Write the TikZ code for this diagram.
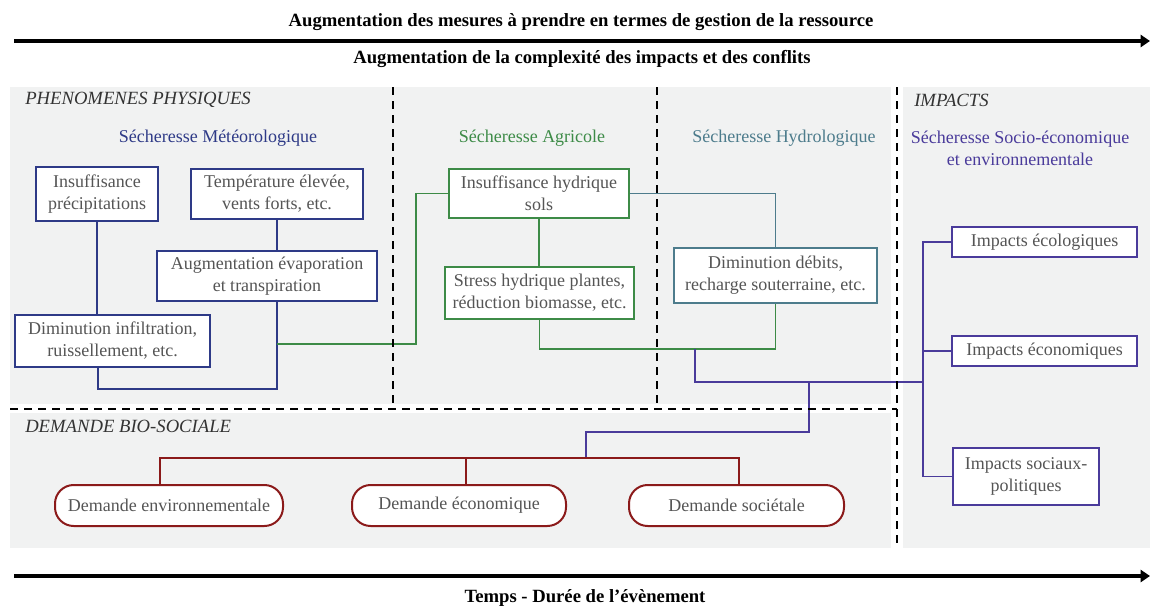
\documentclass[tikz,border=0pt]{standalone}
\usepackage{fontspec}
\setmainfont{Liberation Serif}
\usetikzlibrary{arrows.meta}
\definecolor{navy}{RGB}{46,58,135}
\definecolor{agri}{RGB}{61,139,71}
\definecolor{hydro}{RGB}{77,124,140}
\definecolor{purp}{RGB}{74,59,155}
\definecolor{dred}{RGB}{139,26,26}
\definecolor{panel}{RGB}{241,242,242}
\definecolor{txtgray}{RGB}{85,85,85}
\definecolor{ttlgray}{RGB}{51,51,51}
\newcommand{\bxfont}{\fontsize{13.5}{16.5}\selectfont}
\newcommand{\ttlfont}{\fontsize{14}{17}\selectfont\bfseries}
\newcommand{\secfont}{\fontsize{14}{17}\selectfont\itshape}
\begin{document}
\begin{tikzpicture}[x=0.75pt,y=-0.75pt,
  box/.style={draw, line width=1.5pt, fill=white, text=txtgray, font=\bxfont, align=center, inner sep=1pt},
  pill/.style={box, draw=dred, rounded corners=14pt},
  conn/.style={line width=1.4pt},
  divider/.style={line width=1.8pt, dash pattern=on 6pt off 4.5pt},
  timearrow/.style={line width=3pt, -{Triangle[length=7pt,width=9pt]}},
  section/.style={font=\secfont, text=ttlgray, anchor=west, inner sep=0pt},
  subttl/.style={font=\bxfont, align=center, inner sep=0pt},
  ttl/.style={font=\ttlfont, inner sep=0pt}]
\useasboundingbox (0,0) rectangle (1150,608);
% panels
\fill[panel] (10,87) rectangle (891,404);
\fill[panel] (10,413) rectangle (891,548);
\fill[panel] (903,87) rectangle (1150,548);
% arrows and titles
\coordinate (a1) at (14,41);
\coordinate (a2) at (1150,41);
\coordinate (b1) at (14,576);
\coordinate (b2) at (1150,576);
\draw[timearrow] (a1) -- (a2);
\draw[timearrow] (b1) -- (b2);
\node[ttl] (t1) at (581,22) {Augmentation des mesures à prendre en termes de gestion de la ressource};
\node[ttl] (t2) at (582,59) {Augmentation de la complexité des impacts et des conflits};
\node[ttl] (t3) at (585,598) {Temps - Durée de l’évènement};
% section titles
\node[section] (s1) at (25,100) {PHENOMENES PHYSIQUES};
\node[section] (s2) at (914,100) {IMPACTS};
\node[section] (s3) at (25,426) {DEMANDE BIO-SOCIALE};
\node[subttl, text=navy] (st1) at (218,138) {Sécheresse Météorologique};
\node[subttl, text=agri] (st2) at (532,138) {Sécheresse Agricole};
\node[subttl, text=hydro] (st3) at (784,138) {Sécheresse Hydrologique};
\node[subttl, text=purp] (st4) at (1020,148) {Sécheresse Socio-économique\\et environnementale};
% boxes
\node[box, draw=navy, minimum width=91.5pt, minimum height=40.5pt] (insuf) at (97,194) {Insuffisance\\précipitations};
\node[box, draw=navy, minimum width=129pt, minimum height=37.5pt] (temp) at (277,194) {Température élevée,\\vents forts, etc.};
\node[box, draw=navy, minimum width=165pt, minimum height=37.5pt] (augm) at (267,276) {Augmentation évaporation\\et transpiration};
\node[box, draw=navy, minimum width=146.25pt, minimum height=39pt] (dimi) at (112.5,341) {Diminution infiltration,\\ruissellement, etc.};
\node[box, draw=agri, minimum width=135pt, minimum height=36.75pt] (hyd) at (539,193.5) {Insuffisance hydrique\\sols};
\node[box, draw=agri, minimum width=141.75pt, minimum height=39pt] (stress) at (539.5,293) {Stress hydrique plantes,\\réduction biomasse, etc.};
\node[box, draw=hydro, minimum width=152.25pt, minimum height=41.25pt] (debits) at (775.5,275.5) {Diminution débits,\\recharge souterraine, etc.};
\node[box, draw=purp, minimum width=138.75pt, minimum height=22.5pt] (eco) at (1044.5,242) {Impacts écologiques};
\node[box, draw=purp, minimum width=138.75pt, minimum height=22.5pt] (econ) at (1044.5,351) {Impacts économiques};
\node[box, draw=purp, minimum width=109.5pt, minimum height=42.75pt] (soc) at (1026,476.5) {Impacts sociaux-\\politiques};
\node[pill, minimum width=171pt, minimum height=30.75pt] (p1) at (169,505.5) {Demande environnementale};
\node[pill, minimum width=160.5pt, minimum height=30.75pt] (p2) at (459,505.5) {Demande économique};
\node[pill, minimum width=161.25pt, minimum height=30.75pt] (p3) at (736.5,505.5) {Demande sociétale};
% coordinates
\coordinate (c1) at (98,389);
\coordinate (c2) at (277,389);
\coordinate (g1) at (277,344);
\coordinate (g2) at (416,193.5);
\coordinate (j1) at (695,349);
\coordinate (j2) at (923,382);
\coordinate (j3) at (809,382);
\coordinate (j5) at (809,432);
\coordinate (j4) at (586,458);
\coordinate (r1) at (160,458);
\coordinate (r2) at (466,458);
\coordinate (r3) at (739,458);
% navy connectors
\draw[conn, navy] (insuf.south) -- (insuf.south |- dimi.north);
\draw[conn, navy] (temp.south) -- (temp.south |- augm.north);
\draw[conn, navy] (dimi.south -| c1) -- (c1) -- (c2) -- (c2 |- augm.south);
% green connectors
\draw[conn, agri] (g1) -| (g2) -- (hyd.west);
\draw[conn, agri] (hyd.south) -- (hyd.south |- stress.north);
\draw[conn, agri] (stress.south) |- (j1) -| (debits.south);
% teal
\draw[conn, hydro] (hyd.east) -| (debits.north);
% purple
\draw[conn, purp] (j1) |- (j2);
\draw[conn, purp] (eco.west) -| (soc.west -| j2) -- (soc.west);
\draw[conn, purp] (econ.west) -- (econ.west -| j2);
\draw[conn, purp] (j3) -- (j5) -| (j4);
% red
\draw[conn, dred] (p1.north -| r1) |- (r3) -- (p3.north -| r3);
\draw[conn, dred] (r2) -- (p2.north -| r2);
% dividers
\draw[divider] (393,87) -- (393,409);
\draw[divider] (657,87) -- (657,409);
\draw[divider] (10,409) -- (897,409);
\draw[divider] (897,87) -- (897,548);
\end{tikzpicture}
\end{document}
